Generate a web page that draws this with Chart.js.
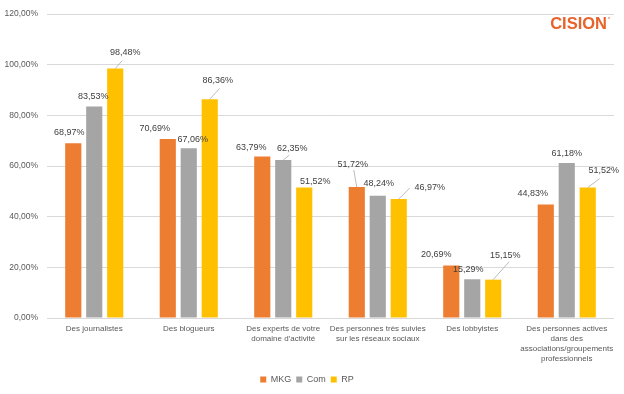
<!DOCTYPE html>
<html>
<head>
<meta charset="utf-8">
<script src="https://cdn.jsdelivr.net/npm/chart.js@4/dist/chart.umd.min.js"></script>
<style>
  html, body { margin: 0; padding: 0; background: #fff; }
  #wrap { width: 624px; height: 394px; }
</style>
</head>
<body>
<div id="wrap"><canvas id="myChart" width="624" height="394"></canvas></div>
<script>
const categories = [
    ['Des journalistes'],
    ['Des blogueurs'],
    ['Des experts de votre', 'domaine d\u2019activité'],
    ['Des personnes très suivies', 'sur les réseaux sociaux'],
    ['Des lobbyistes'],
    ['Des personnes actives', 'dans des', 'associations/groupements', 'professionnels']
];
const seriesNames = ['MKG', 'Com', 'RP'];
const mkg = [68.97, 70.69, 63.79, 51.72, 20.69, 44.83];
const com = [83.53, 67.06, 62.35, 48.24, 15.29, 61.18];
const rp = [98.48, 86.36, 51.52, 46.97, 15.15, 51.52];
const yTicks = [0, 20, 40, 60, 80, 100, 120];

const colors = ['#ED7D31', '#A5A5A5', '#FFC000'];
const fontFamily = '"Liberation Sans", Arial, sans-serif';

// label placement: [dx, dy, lineEndX, lineEndY] relative to bar top / label centre
const placement = [
    [[-4, -11], [-13, -10], [-11, -9], [-4, -23, 1, 6], [-15, -11], [-13, -11]],
    [[-1, -10], [4, -9], [9, -12, -3, 7], [1, -12], [-4, -10], [0, -10]],
    [[10, -16, -3, 8], [8, -19, 2, 8], [11, -6], [31, -12, -20, 1], [12, -24, 4, 6], [16, -17, -4, 8]]
];

function pct(v) {
    return v.toFixed(2).replace('.', ',') + '%';
}

const valueLabels = {
    id: 'valueLabels',
    afterDatasetsDraw(chart) {
        const ctx = chart.ctx;
        ctx.save();
        ctx.font = '9px ' + fontFamily;
        ctx.fillStyle = '#404040';
        ctx.textAlign = 'center';
        ctx.textBaseline = 'middle';
        chart.data.datasets.forEach((ds, di) => {
            chart.getDatasetMeta(di).data.forEach((bar, i) => {
                const p = placement[di][i];
                const lx = bar.x + p[0];
                const ly = bar.y + p[1];
                if (p.length > 2) {
                    ctx.beginPath();
                    ctx.strokeStyle = '#A6A6A6';
                    ctx.lineWidth = 0.75;
                    ctx.moveTo(bar.x, bar.y);
                    ctx.lineTo(lx + p[2], ly + p[3]);
                    ctx.stroke();
                }
                ctx.fillText(pct(ds.data[i]), lx, ly);
            });
        });
        ctx.restore();
    }
};

const logo = {
    id: 'logo',
    afterDraw(chart) {
        const ctx = chart.ctx;
        ctx.save();
        ctx.font = 'bold 16.5px ' + fontFamily;
        ctx.fillStyle = '#E8632B';
        ctx.textAlign = 'right';
        ctx.textBaseline = 'alphabetic';
        ctx.fillText('CISION', 607, 29);
        ctx.beginPath();
        ctx.arc(609, 18, 0.8, 0, Math.PI * 2);
        ctx.fill();
        ctx.restore();
    }
};

const data = {
    labels: categories,
    datasets: [mkg, com, rp].map((values, i) => ({
        label: seriesNames[i],
        data: values,
        backgroundColor: colors[i],
        borderWidth: 0,
        categoryPercentage: 0.666,
        barPercentage: 0.77
    }))
};

const config = {
    type: 'bar',
    data: data,
    plugins: [valueLabels, logo],
    options: {
        responsive: false,
        animation: false,
        layout: {
            padding: { top: 11, right: 10, left: 0, bottom: 0 }
        },
        plugins: {
            tooltip: { enabled: false },
            legend: {
                position: 'bottom',
                labels: {
                    boxWidth: 6,
                    boxHeight: 6,
                    padding: 5,
                    color: '#595959',
                    font: { family: fontFamily, size: 9 }
                }
            }
        },
        scales: {
            x: {
                grid: { display: false, drawTicks: false },
                border: { display: false },
                ticks: {
                    color: '#595959',
                    font: { family: fontFamily, size: 8, lineHeight: 1.25 },
                    padding: 6,
                    maxRotation: 0,
                    autoSkip: false
                },
                afterFit(scale) { scale.height = 52; }
            },
            y: {
                min: 0,
                max: 120,
                afterBuildTicks(scale) {
                    scale.ticks = yTicks.map(v => ({ value: v }));
                },
                grid: { color: '#D9D9D9', drawTicks: false },
                border: { display: false },
                ticks: {
                    color: '#595959',
                    font: { family: fontFamily, size: 8.5 },
                    padding: 9,
                    callback: v => pct(v)
                },
                afterFit(scale) { scale.width = 47; }
            }
        }
    }
};

const myChart = new Chart(document.getElementById('myChart').getContext('2d'), config);
</script>
</body>
</html>
